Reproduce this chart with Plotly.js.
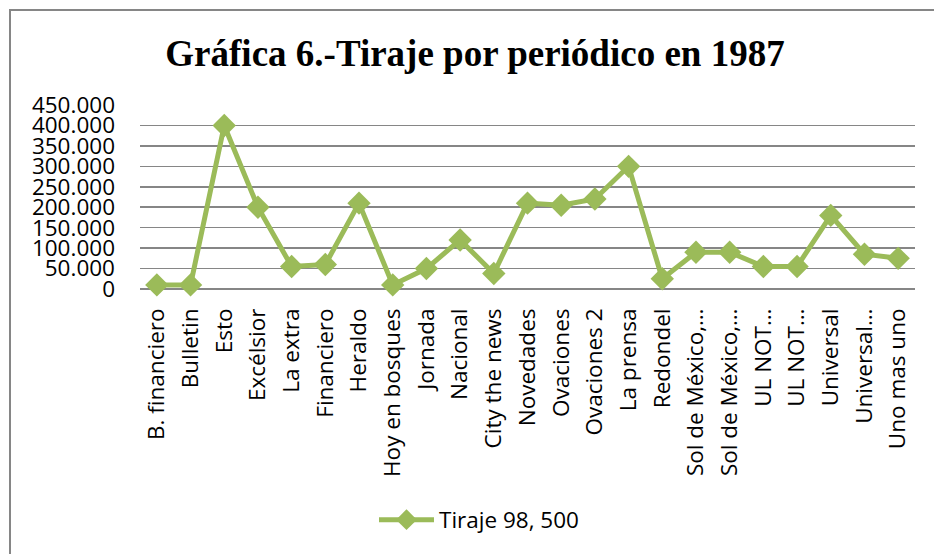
<!DOCTYPE html>
<html>
<head>
<meta charset="utf-8">
<script src="https://cdn.plot.ly/plotly-3.0.1.min.js"></script>
<style>
html,body{margin:0;padding:0;background:#fff;}
#chart{width:934px;height:554px;}
</style>
</head>
<body>
<div id="chart"></div>
<script>
const categories = ["B. financiero","Bulletin","Esto","Excélsior","La extra","Financiero","Heraldo","Hoy en bosques","Jornada","Nacional","City the news","Novedades","Ovaciones","Ovaciones 2","La prensa","Redondel","Sol de México,…","Sol de México,…","UL NOT…","UL NOT…","Universal","Universal…","Uno mas uno"];
const tiraje = [10000,10000,400000,200000,55000,60000,210000,10000,50000,120000,38000,210000,205000,220000,300000,25000,90000,90000,55000,55000,180000,85000,75000];
const seriesName = "Tiraje 98, 500";
const titleText = "Gráfica 6.-Tiraje por periódico en 1987";
const yTicks = [0,50000,100000,150000,200000,250000,300000,350000,400000,450000];

const xIdx = categories.map((c,i)=>i);

const trace = {
  x: xIdx,
  y: tiraje,
  type: 'scatter',
  mode: 'lines+markers',
  name: seriesName,
  line: {color: '#9BBB59', width: 5},
  marker: {symbol: 'diamond', size: 18, color: '#9BBB59'},
  cliponaxis: false
};

// plot area in pixels: left 140, right 915, top 105, bottom 289
const L = 140, R = 915, T = 105, B = 289, W = 934, H = 554;
const pw = R - L, ph = B - T;
const px = v => (v - L) / pw;
const py = v => (B - v) / ph;
const tickFont = {family: '"Open Sans", sans-serif', size: 22.5, color: '#000'};

const layout = {
  width: W, height: H,
  margin: {l: L, r: W - R, t: T, b: H - B, pad: 0},
  paper_bgcolor: '#ffffff',
  plot_bgcolor: '#ffffff',
  separators: ',.',
  font: tickFont,
  title: {
    text: '<b>' + titleText + '</b>',
    font: {family: '"Liberation Serif", "Times New Roman", serif', size: 37, color: '#000'},
    x: 475 / W, xref: 'container', xanchor: 'center',
    y: 1 - 53 / H, yref: 'container', yanchor: 'middle'
  },
  xaxis: {
    tickmode: 'array',
    tickvals: xIdx,
    ticktext: categories,
    tickangle: -90,
    range: [-0.5, categories.length - 0.5],
    showgrid: false,
    zeroline: false,
    showline: false,
    ticks: '',
    ticklen: 0,
    ticklabelstandoff: 14,
    tickfont: tickFont,
    automargin: false
  },
  yaxis: {
    range: [0, 450000],
    tickmode: 'array',
    tickvals: yTicks,
    tickformat: ',d',
    showgrid: true,
    gridcolor: '#868686',
    gridwidth: 1.5,
    zeroline: true,
    zerolinecolor: '#868686',
    zerolinewidth: 1.5,
    showline: false,
    ticks: '',
    tickfont: tickFont,
    automargin: false,
    ticklabelstandoff: 24
  },
  showlegend: true,
  legend: {
    orientation: 'h',
    x: px(479), xanchor: 'center',
    y: py(520), yanchor: 'middle',
    itemwidth: 55,
    font: tickFont,
    bgcolor: 'rgba(0,0,0,0)'
  },
  shapes: [{
    type: 'rect', xref: 'paper', yref: 'paper',
    x0: px(10), x1: px(940), y0: py(560), y1: py(10),
    line: {color: '#868686', width: 2},
    fillcolor: 'rgba(0,0,0,0)',
    layer: 'below'
  }]
};

Plotly.newPlot('chart', [trace], layout, {displayModeBar: false, staticPlot: true});
</script>
</body>
</html>
